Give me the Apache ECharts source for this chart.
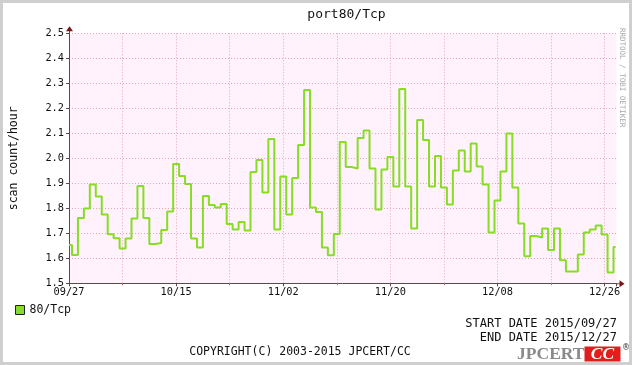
<!DOCTYPE html>
<html>
<head>
<meta charset="utf-8">
<script src="https://cdn.jsdelivr.net/npm/echarts@6/dist/echarts.min.js"></script>
<style>html,body{margin:0;padding:0;background:#fff;}#c{width:632px;height:365px;}</style>
</head>
<body>
<div id="c"></div>
<script>
// ---- data ----
const titleText = 'port80/Tcp';
const seriesName = '80/Tcp';
const yAxisName = 'scan count/hour';
const xTickLabels = ['09/27', '10/15', '11/02', '11/20', '12/08', '12/26'];
const yTickLabels = ['1.5', '1.6', '1.7', '1.8', '1.9', '2.0', '2.1', '2.2', '2.3', '2.4', '2.5'];
// daily values (one per day starting 2015/09/27)
const values = [
  1.653, 1.613, 1.761, 1.799, 1.895, 1.847, 1.775, 1.696, 1.680, 1.639,
  1.679, 1.759, 1.889, 1.761, 1.657, 1.661, 1.713, 1.787, 1.977, 1.929,
  1.897, 1.679, 1.643, 1.849, 1.813, 1.803, 1.817, 1.737, 1.715, 1.745,
  1.711, 1.945, 1.993, 1.863, 2.077, 1.715, 1.927, 1.775, 1.921, 2.053,
  2.273, 1.803, 1.785, 1.643, 1.612, 1.697, 2.065, 1.965, 1.959, 2.081,
  2.111, 1.959, 1.795, 1.955, 2.005, 1.887, 2.277, 1.887, 1.719, 2.153,
  2.073, 1.887, 2.009, 1.883, 1.815, 1.951, 2.031, 1.947, 2.059, 1.967,
  1.895, 1.703, 1.831, 1.947, 2.099, 1.883, 1.739, 1.608, 1.689, 1.683,
  1.719, 1.633, 1.719, 1.592, 1.547, 1.547, 1.615, 1.703, 1.715, 1.731,
  1.695, 1.543, 1.645
];
const dataEndDay = 91.85;   // data stops a little before the end of the time axis
const axisEndDay = 92;
const tickStepDays = 18;

// ---- build step data (each value is a one-day bucket centred on its day) ----
const stepData = values.map((v, i) => [Math.max(0, i - 0.5), v]);
stepData.push([dataEndDay, values[values.length - 1]]);

const MONO = '"DejaVu Sans Mono", monospace';
const GRID_COLOR = '#e2a6b8';
const AXIS_COLOR = '#5a4a4a';
const ARROW_COLOR = '#7a1515';

const chart = echarts.init(document.getElementById('c'), null, {renderer: 'canvas'});

const option = {
  animation: false,
  backgroundColor: '#cfcfcf',
  title: {
    text: titleText,
    left: 341.5,
    top: 3,
    textAlign: 'center',
    textStyle: {fontFamily: MONO, fontSize: 13, fontWeight: 'normal', color: '#111'}
  },
  legend: {
    left: 15,
    top: 304,
    padding: 0,
    icon: 'rect',
    itemWidth: 9,
    itemHeight: 9,
    itemGap: 5,
    itemStyle: {borderColor: '#222', borderWidth: 1},
    textStyle: {fontFamily: MONO, fontSize: 11.5, color: '#111', padding: [0, 0, 0, 0]},
    data: [seriesName]
  },
  grid: {
    left: 66,
    top: 33.3,
    width: 550.5,
    height: 250,
    show: true,
    backgroundColor: '#fff2fc',
    borderWidth: 0
  },
  xAxis: {
    type: 'value',
    min: 0,
    max: axisEndDay,
    interval: tickStepDays,
    axisLine: {show: true, lineStyle: {color: AXIS_COLOR, width: 1}},
    axisTick: {show: true, length: 3, lineStyle: {color: AXIS_COLOR}},
    minorTick: {show: true, splitNumber: 2, length: 2, lineStyle: {color: '#b08080'}},
    axisLabel: {
      fontFamily: MONO, fontSize: 10.3, color: '#111', margin: 4,
      showMaxLabel: false,
      formatter: function (v) {
        const k = Math.round(v / tickStepDays);
        return (Math.abs(v - k * tickStepDays) < 1e-6 && xTickLabels[k]) ? xTickLabels[k] : '';
      }
    },
    splitLine: {show: true, showMinLine: false, showMaxLine: false, lineStyle: {color: GRID_COLOR, type: [1, 2], width: 1}},
    minorSplitLine: {show: true, lineStyle: {color: GRID_COLOR, type: [1, 2], width: 1}}
  },
  yAxis: {
    type: 'value',
    min: 1.5,
    max: 2.5,
    interval: 0.1,
    name: yAxisName,
    nameLocation: 'middle',
    nameRotate: 90,
    nameGap: 49,
    nameTextStyle: {fontFamily: MONO, fontSize: 11.5, color: '#111'},
    axisLine: {show: true, lineStyle: {color: AXIS_COLOR, width: 1}},
    axisTick: {show: true, length: 3, lineStyle: {color: AXIS_COLOR}},
    axisLabel: {
      fontFamily: MONO, fontSize: 10.3, color: '#111', margin: 5,
      formatter: function (v) {
        const k = Math.round((v - 1.5) * 10);
        return yTickLabels[k] !== undefined ? yTickLabels[k] : '';
      }
    },
    splitLine: {show: true, showMinLine: false, lineStyle: {color: GRID_COLOR, type: [1, 2], width: 1}}
  },
  series: [{
    name: seriesName,
    type: 'line',
    step: 'end',
    data: stepData,
    showSymbol: false,
    symbol: 'none',
    itemStyle: {color: '#86dd22'},
    lineStyle: {color: '#86dd22', width: 2},
    z: 5
  }],
  graphic: [
    {type: 'rect', z: -10, silent: true, shape: {x: 3, y: 3, width: 626, height: 359}, style: {fill: '#ffffff'}},
    {type: 'text', silent: true, z: 10,
      style: {text: 'RRDTOOL / TOBI OETIKER', font: '7.5px ' + MONO, fill: '#a8a8a8', textVerticalAlign: 'middle'},
      x: 622, y: 28, rotation: -Math.PI / 2},
    {type: 'text', silent: true, style: {text: 'START DATE 2015/09/27', font: '12px ' + MONO, fill: '#111', textAlign: 'right', textVerticalAlign: 'middle'}, x: 617, y: 324},
    {type: 'text', silent: true, style: {text: 'END DATE 2015/12/27', font: '12px ' + MONO, fill: '#111', textAlign: 'right', textVerticalAlign: 'middle'}, x: 617, y: 338},
    {type: 'text', silent: true, style: {text: 'COPYRIGHT(C) 2003-2015 JPCERT/CC', font: '11.5px ' + MONO, fill: '#111', textAlign: 'center', textVerticalAlign: 'middle'}, x: 300, y: 352},
    {type: 'text', silent: true, style: {text: 'JPCERT', font: 'bold 17.5px "Liberation Serif", serif', fill: '#8a8a8a', textAlign: 'right', textVerticalAlign: 'middle'}, x: 584.5, y: 354},
    {type: 'rect', silent: true, shape: {x: 584.5, y: 346.5, width: 36, height: 15}, style: {fill: '#e01e1e'}},
    {type: 'text', silent: true, style: {text: 'CC', font: 'italic bold 17.5px "Liberation Serif", serif', fill: '#ffffff', textAlign: 'center', textVerticalAlign: 'middle'}, x: 602.5, y: 354.5},
    {type: 'text', silent: true, style: {text: '®', font: '8px "DejaVu Sans", sans-serif', fill: '#333', textAlign: 'center', textVerticalAlign: 'middle'}, x: 626, y: 348}
  ]
};

chart.setOption(option);

// axis arrows placed through the chart's own coordinate conversion
const topLeft = chart.convertToPixel({gridIndex: 0}, [0, 2.5]);
const botRight = chart.convertToPixel({gridIndex: 0}, [axisEndDay, 1.5]);
const origin = chart.convertToPixel({gridIndex: 0}, [0, 1.5]);
const g = option.graphic.slice();
g.push({type: 'line', silent: true, z: 4, shape: {x1: botRight[0], y1: origin[1] + 0.5, x2: botRight[0] + 4, y2: origin[1] + 0.5}, style: {stroke: AXIS_COLOR, lineWidth: 1}});
g.push({type: 'polygon', silent: true, z: 6, shape: {points: [[botRight[0] + 3, origin[1] - 3], [botRight[0] + 8, origin[1] + 0.5], [botRight[0] + 3, origin[1] + 4]]}, style: {fill: ARROW_COLOR}});
g.push({type: 'line', silent: true, z: 4, shape: {x1: topLeft[0] + 0.5, y1: topLeft[1], x2: topLeft[0] + 0.5, y2: topLeft[1] - 3}, style: {stroke: AXIS_COLOR, lineWidth: 1}});
g.push({type: 'polygon', silent: true, z: 6, shape: {points: [[topLeft[0] - 3, topLeft[1] - 2], [topLeft[0] + 0.5, topLeft[1] - 7], [topLeft[0] + 4, topLeft[1] - 2]]}, style: {fill: ARROW_COLOR}});
chart.setOption({graphic: g});
</script>
</body>
</html>
